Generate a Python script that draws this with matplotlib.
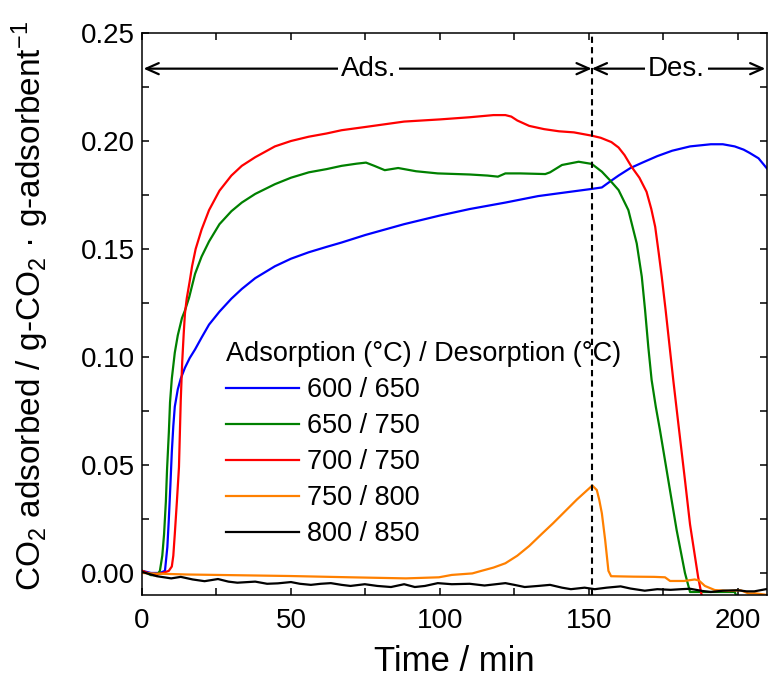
import numpy as np
import matplotlib
matplotlib.use("Agg")
from matplotlib import pyplot as plt

plt.rcParams['font.family'] = ['Liberation Sans', 'DejaVu Sans']
plt.rcParams['mathtext.fontset'] = 'custom'
plt.rcParams['mathtext.rm'] = 'Liberation Sans'
plt.rcParams['mathtext.it'] = 'Liberation Sans:italic'

# time (min), CO2 adsorbed (g/g)
t_600 = [0, 3, 6, 7.7, 8.5, 9, 9.5, 10, 10.5, 11, 12, 13, 14.4, 16, 17.8, 20, 22.5, 26, 30,
         33.5, 38, 44.6, 50, 56, 62, 67, 75, 88, 100, 110, 122, 133, 140, 150.9, 154.4,
         157.4, 160, 164, 168, 173, 178, 184, 191, 195, 199, 202, 204, 207, 210]
y_600 = [0.001, 0.000, 0.000, 0.001, 0.012, 0.025, 0.040, 0.056, 0.068, 0.077, 0.085, 0.090,
         0.095, 0.0995, 0.1035, 0.109, 0.115, 0.121, 0.127, 0.1315, 0.1365, 0.142, 0.1455,
         0.1485, 0.151, 0.153, 0.1565, 0.1615, 0.1655, 0.1685, 0.1715, 0.1745, 0.1758,
         0.1778, 0.1785, 0.1815, 0.184, 0.1875, 0.190, 0.193, 0.1955, 0.1975, 0.1985,
         0.1985, 0.1975, 0.196, 0.1945, 0.192, 0.187]

t_650 = [0, 3, 5, 6, 6.8, 7.4, 8, 8.4, 9, 9.4, 10, 11, 12, 13.4, 14.4, 15.8, 17.8, 20, 22.5,
         26, 30, 33.5, 38, 44.6, 50, 56, 62, 67, 72, 75.2, 78, 81.5, 86, 92, 99.3, 110, 116,
         119.5, 122, 127, 135.4, 137, 141, 146.6, 151, 154.4, 157, 160, 163.3, 166.1, 167.8,
         168.9, 170, 171.1, 172.5, 173.9, 176.7, 179.5, 182.3, 184, 185, 199, 200, 210]
y_650 = [0.001, -0.001, -0.001, 0.001, 0.008, 0.018, 0.033, 0.048, 0.065, 0.079, 0.090, 0.102,
         0.110, 0.118, 0.1215, 0.1275, 0.1385, 0.1465, 0.1535, 0.1615, 0.1675, 0.1715, 0.1755,
         0.180, 0.183, 0.1855, 0.187, 0.1885, 0.1895, 0.190, 0.1885, 0.1865, 0.1875, 0.186,
         0.185, 0.1845, 0.184, 0.1835, 0.185, 0.185, 0.1847, 0.1855, 0.1889, 0.1904, 0.1894,
         0.1858, 0.182, 0.1773, 0.168, 0.1526, 0.1372, 0.1218, 0.1045, 0.0894, 0.077, 0.0662,
         0.043, 0.0199, 0.0, -0.0088, -0.0088, -0.0088, -0.012, -0.012]

t_700 = [0, 2, 4, 7, 9, 10, 10.5, 11, 11.7, 12.4, 13, 13.5, 14, 14.4, 15, 16, 16.8, 18, 20,
         22.5, 26, 30, 33.5, 38, 44.6, 50, 56, 62, 67, 75, 88, 100, 110, 118, 122, 124, 126,
         130, 135, 140, 145, 150.9, 154, 157.6, 160, 162, 164.4, 167, 169.4, 171, 172.3, 173.5,
         174.5, 175.8, 178.4, 180, 182.3, 184, 186.7, 188, 190, 210]
y_700 = [0.001, 0.000, -0.001, 0.000, 0.001, 0.003, 0.008, 0.018, 0.033, 0.049, 0.080, 0.098,
         0.111, 0.120, 0.127, 0.135, 0.142, 0.150, 0.159, 0.168, 0.177, 0.184, 0.1885, 0.1925,
         0.1975, 0.200, 0.202, 0.2035, 0.205, 0.2065, 0.209, 0.210, 0.211, 0.212, 0.212,
         0.2113, 0.2095, 0.207, 0.2055, 0.2045, 0.204, 0.2025, 0.2015, 0.1995, 0.197, 0.1935,
         0.188, 0.183, 0.1765, 0.1685, 0.1603, 0.148, 0.1372, 0.1218, 0.089, 0.070, 0.043,
         0.0225, -0.0017, -0.011, -0.015, -0.015]

t_750 = [0, 5, 15, 30, 49.5, 70, 88.6, 99.7, 104, 110.9, 114, 118, 122, 126, 130, 134, 138,
         142, 146, 150, 151.2, 152.7, 153.5, 154.4, 155.5, 156.6, 157.5, 165, 172, 175.6,
         177.3, 182, 185.6, 187, 189, 192.3, 197, 201, 203.5, 206, 210]
y_750 = [0.000, -0.0003, -0.0007, -0.001, -0.0014, -0.002, -0.0025, -0.002, -0.0009, -0.0002,
         0.001, 0.0025, 0.0045, 0.008, 0.0125, 0.0178, 0.023, 0.0285, 0.034, 0.039, 0.0405,
         0.0384, 0.034, 0.0276, 0.0153, 0.001, -0.0015, -0.0017, -0.0018, -0.002, -0.0037,
         -0.0037, -0.003, -0.0035, -0.006, -0.0079, -0.0083, -0.008, -0.0094, -0.0094, -0.0102]

t_800 = [0, 5, 9.8, 13, 17, 21, 25.5, 29, 32, 38, 42, 45.6, 50, 53, 56.7, 60, 63.4, 67, 70,
         74.8, 79, 83.6, 88, 91.6, 95, 99.3, 104, 110, 115, 122, 125, 128.5, 133, 137, 141,
         144, 148.6, 152, 156, 160.7, 164, 168.8, 173, 177.5, 181, 184, 188, 191, 195, 200,
         203, 205.6, 209.5]
y_800 = [0.0005, -0.0015, -0.0025, -0.0018, -0.003, -0.0038, -0.0028, -0.004, -0.0045, -0.004,
         -0.005, -0.0048, -0.0042, -0.005, -0.0055, -0.005, -0.0047, -0.0055, -0.006, -0.0052,
         -0.006, -0.0065, -0.0052, -0.0065, -0.006, -0.0047, -0.0052, -0.005, -0.0058, -0.0047,
         -0.0055, -0.0065, -0.006, -0.0055, -0.0068, -0.0075, -0.0068, -0.0075, -0.0068,
         -0.0062, -0.0072, -0.0082, -0.0075, -0.0078, -0.0075, -0.0073, -0.0083, -0.0088,
         -0.0082, -0.008, -0.0085, -0.0085, -0.0075]

series = [
    (t_600, y_600, '#0000ff', '600 / 650'),
    (t_650, y_650, '#008000', '650 / 750'),
    (t_700, y_700, '#ff0000', '700 / 750'),
    (t_750, y_750, '#ff8000', '750 / 800'),
    (t_800, y_800, '#000000', '800 / 850'),
]

switch_time = 151
arrow_y = 0.2335

fig = plt.figure(figsize=(7.69, 6.78), dpi=100)
ax = fig.add_axes([0.1847, 0.1224, 0.8133, 0.8289])

for t, y, c, lab in series:
    ax.plot(t, y, color=c, lw=1.6, label=lab)

ax.axvline(switch_time, color='black', lw=1.5, ls=(0, (3, 2)))

# Ads. / Des. arrows
arrow = dict(arrowstyle='<->,head_length=0.9,head_width=0.4', lw=1.6, color='black',
             shrinkA=0, shrinkB=0)
ax.annotate('', xy=(0.5, arrow_y), xytext=(switch_time, arrow_y), arrowprops=arrow)
ax.annotate('', xy=(switch_time, arrow_y), xytext=(209.3, arrow_y), arrowprops=arrow)
ax.text(76, arrow_y, 'Ads.', fontsize=20, ha='center', va='center',
        bbox=dict(facecolor='white', edgecolor='none', pad=2))
ax.text(179.5, arrow_y, 'Des.', fontsize=20, ha='center', va='center',
        bbox=dict(facecolor='white', edgecolor='none', pad=2))

ax.set_xlim(0, 210)
ax.set_ylim(-0.0102, 0.25)
ax.set_xticks([0, 50, 100, 150, 200])
ax.set_xticks(np.arange(25, 210, 50), minor=True)
ax.set_yticks([0.00, 0.05, 0.10, 0.15, 0.20, 0.25])
ax.set_yticks(np.arange(0.025, 0.25, 0.05), minor=True)
ax.set_yticklabels(['0.00', '0.05', '0.10', '0.15', '0.20', '0.25'])
ax.tick_params(which='both', direction='in', top=True, right=True, width=1.1,
               labelsize=20, length=5)
ax.tick_params(axis='x', pad=9)
ax.tick_params(axis='y', pad=5)
for s in ax.spines.values():
    s.set_linewidth(1.1)

ax.set_xlabel('Time / min', fontsize=25, labelpad=8)
ax.set_ylabel(r'CO$_2$ adsorbed / g-CO$_2$ · g-adsorbent$^{-1}$', fontsize=24)
ax.yaxis.set_label_coords(-0.146, 0.515)

leg = ax.legend(loc='upper left', bbox_to_anchor=(0.134, 0.452), frameon=False, fontsize=19.5,
                title='Adsorption (°C) / Desorption (°C)', title_fontsize=19.5,
                handlelength=2.7, handletextpad=0.3, labelspacing=0.37, borderpad=0,
                borderaxespad=0, alignment='left')

fig.savefig('out.png', dpi=100)
